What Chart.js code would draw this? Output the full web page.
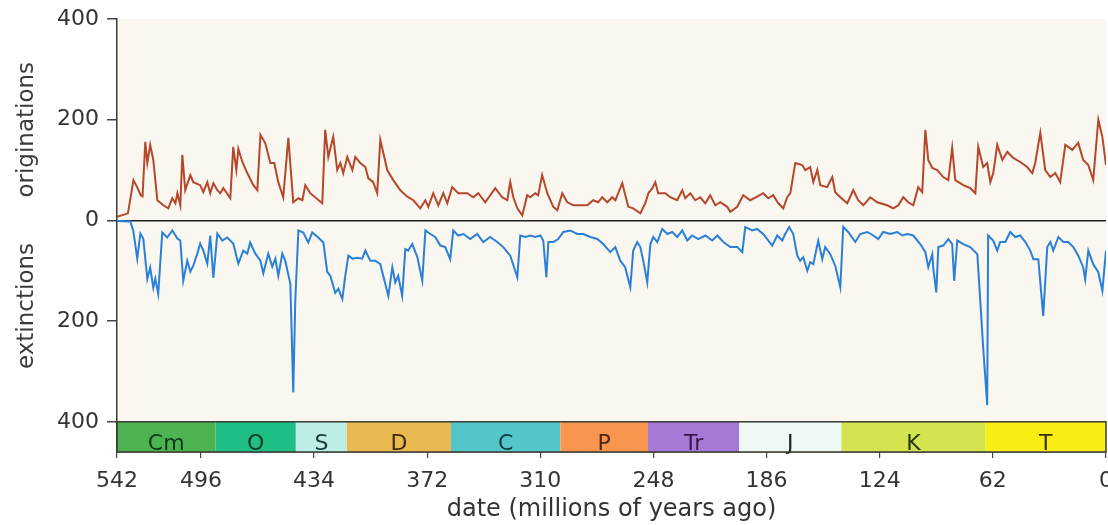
<!DOCTYPE html>
<html>
<head>
<meta charset="utf-8">
<script src="https://cdn.jsdelivr.net/npm/chart.js@4.4.0/dist/chart.umd.min.js"></script>
<style>
  html, body { margin: 0; padding: 0; background: #fff; }
  #wrap { width: 1108px; height: 525px; }
</style>
</head>
<body>
<div id="wrap"><canvas id="chart" width="1108" height="525"></canvas></div>
<script>
// ages in millions of years ago, values = number of genera
const origAge = [542, 536, 533, 531, 529, 528, 526.5, 525.4, 523.8, 522.1,
  519.9, 516.6, 513.9, 511.7, 510, 508.9, 507.3, 506.2, 504.6, 501.8,
  500.2, 496.4, 494.7, 492.5, 490.9, 489.2, 487, 485.4, 483.7, 479.9,
  478.3, 476.6, 475.5, 473.3, 470.6, 467.3, 465.1, 463.4, 460.7, 458,
  455.8, 453.6, 450.9, 448.1, 445.4, 442.6, 440.4, 438.8, 436.1, 429.5,
  427.9, 426.2, 423.5, 421.3, 419.6, 418, 415.8, 413, 411.4, 408.7,
  405.9, 404.3, 401.6, 399.4, 397.7, 393.9, 390.6, 386.8, 382.9, 379.6,
  375.8, 373, 371.4, 368.7, 365.9, 363.2, 361, 358.3, 355, 350,
  346.8, 344, 340.2, 334.7, 330.9, 328.1, 326.5, 324.8, 322.6, 319.9,
  317.2, 315.5, 312.8, 311.2, 309, 306.2, 302.9, 300.7, 298, 295.2,
  291.9, 288.1, 284.3, 281, 278.3, 276.1, 273.3, 270.6, 268.9, 265.1,
  261.8, 259.1, 255.2, 252.5, 250.8, 248.6, 247, 245.4, 241.5, 238.8,
  235, 232.2, 230.6, 227.8, 225.1, 222.4, 219.6, 216.9, 214.1, 211.4,
  207.6, 205.9, 202.1, 198.8, 195, 191.2, 187.9, 185.1, 182.4, 179.6,
  176.9, 174.7, 173, 170.3, 166.5, 164.8, 162.1, 160.4, 158.2, 156.6,
  152.8, 150, 148.4, 145.6, 141.8, 138.5, 135.8, 133, 129.2, 125.4,
  119.9, 116.6, 113.8, 111.1, 108.4, 105.6, 102.9, 100.7, 99, 97.4,
  95.2, 92.5, 89.2, 86.4, 84.3, 82.6, 78.2, 74.4, 71.6, 70,
  67.3, 65.1, 63.4, 61.8, 59.6, 56.8, 54.1, 50.8, 47, 43.2,
  40.4, 38.8, 36, 33.3, 30.5, 27.8, 25.1, 22.3, 18.5, 15.2,
  12.5, 9.7, 7, 4.2, 2, 0];
const origVal = [7, 14, 80, 66, 50, 48, 156, 114, 150, 120,
  40, 30, 24, 44, 34, 54, 30, 130, 60, 90,
  76, 70, 56, 76, 54, 74, 60, 54, 64, 44,
  146, 100, 142, 116, 94, 70, 60, 170, 153, 114,
  114, 76, 46, 164, 36, 44, 40, 70, 54, 34,
  180, 126, 166, 100, 114, 94, 126, 100, 126, 114,
  106, 84, 76, 54, 160, 100, 80, 60, 47, 40,
  24, 40, 27, 54, 30, 54, 34, 66, 54, 54,
  46, 54, 36, 64, 46, 40, 76, 46, 24, 10,
  50, 46, 54, 50, 90, 54, 27, 20, 54, 36,
  30, 30, 30, 40, 36, 46, 36, 46, 40, 74,
  27, 24, 14, 34, 54, 64, 76, 54, 54, 46,
  40, 60, 44, 54, 40, 46, 34, 50, 30, 36,
  27, 17, 27, 50, 40, 47, 54, 44, 50, 34,
  24, 46, 54, 114, 110, 100, 106, 76, 100, 70,
  66, 86, 56, 46, 34, 60, 40, 30, 46, 36,
  30, 24, 30, 46, 36, 30, 66, 56, 180, 120,
  104, 100, 86, 80, 144, 80, 70, 64, 54, 146,
  106, 114, 76, 94, 150, 120, 136, 124, 116, 106,
  94, 114, 174, 100, 86, 94, 76, 150, 140, 154,
  120, 110, 80, 200, 166, 110];

const extAge = [542, 534.7, 533.1, 530.9, 529.2, 527.6, 525.4, 523.8, 522.1, 521,
  519.4, 517.2, 514.5, 511.7, 508.9, 507.3, 505.7, 503.5, 501.8, 500.2,
  498, 496.4, 494.7, 492.5, 490.9, 489.2, 487, 484.3, 481.6, 478.3,
  475.5, 472.8, 470.6, 469, 466.2, 463.4, 461.8, 459.1, 456.9, 455.2,
  453.6, 451.4, 449.8, 447, 445.4, 444.3, 442.6, 439.9, 437.2, 435,
  431.7, 428.9, 426.8, 425.1, 422.4, 420.7, 418.5, 416.9, 415.2, 413,
  410.3, 407.6, 405.9, 403.2, 400.5, 397.7, 395, 393.3, 391.1, 389.5,
  387.9, 385.7, 384, 382.4, 380.2, 377.4, 374.7, 373, 370.3, 367.6,
  364.8, 362.1, 359.4, 357.7, 355, 352.2, 348.4, 344.6, 341.3, 337.5,
  333.6, 330.3, 326.5, 322.6, 321, 318.2, 315.5, 312.8, 310, 308.4,
  306.7, 305.6, 302.9, 300.2, 297.4, 293.6, 289.8, 286.5, 282.6, 278.8,
  275.5, 271.7, 268.9, 266.2, 263.5, 260.7, 259.1, 256.9, 255.2, 253.6,
  251.4, 249.7, 248.1, 245.9, 243.2, 240.4, 237.7, 235, 232.2, 229.5,
  226.8, 223.5, 219.6, 215.8, 213, 209.7, 205.9, 202.1, 199.3, 197.7,
  193.9, 191.2, 187.9, 182.9, 180.2, 177.4, 175.8, 173.6, 171.4, 169.2,
  167.6, 165.9, 163.7, 162.1, 160.4, 157.7, 155.5, 153.9, 151.1, 148.4,
  145.6, 144, 141.3, 137.4, 134.7, 130.8, 127.5, 124.8, 122.1, 118.2,
  114.4, 111.6, 108.9, 105.6, 101.8, 99, 97.4, 95.2, 94.6, 93,
  91.9, 89.2, 86.4, 84.3, 83.2, 81.5, 78.2, 74.4, 70.5, 68.9,
  67.3, 65.1, 64.6, 61.8, 59.6, 58, 55.2, 52.5, 49.7, 47,
  44.2, 41.5, 39.8, 37.1, 34.4, 32.2, 30.5, 28.9, 26.1, 23.4,
  20.7, 17.9, 15.2, 12.5, 11.4, 9.7, 7, 4.2, 2, 0];
const extVal = [1, 2, 20, 76, 26, 36, 116, 94, 134, 116,
  146, 24, 34, 20, 36, 40, 120, 80, 102, 90,
  66, 46, 60, 86, 30, 114, 26, 40, 34, 46,
  86, 60, 66, 44, 66, 80, 105, 66, 92, 76,
  110, 66, 80, 126, 342, 160, 20, 24, 44, 24,
  34, 44, 102, 110, 144, 136, 156, 110, 70, 76,
  74, 76, 60, 80, 80, 87, 126, 150, 93, 123,
  110, 150, 57, 60, 47, 73, 120, 20, 27, 33,
  50, 53, 77, 20, 30, 27, 37, 27, 43, 33,
  43, 53, 70, 113, 30, 33, 30, 33, 30, 40,
  113, 43, 43, 37, 23, 20, 27, 27, 33, 37,
  47, 63, 53, 80, 93, 133, 60, 43, 53, 80,
  123, 47, 33, 43, 17, 27, 23, 33, 20, 40,
  30, 37, 30, 40, 30, 43, 53, 53, 63, 13,
  20, 17, 27, 50, 30, 40, 27, 13, 27, 70,
  80, 73, 100, 83, 87, 40, 77, 53, 67, 90,
  133, 13, 23, 43, 27, 23, 30, 37, 23, 27,
  23, 30, 27, 30, 47, 63, 93, 67, 97, 143,
  53, 50, 37, 47, 120, 40, 47, 53, 67, 160,
  253, 367, 30, 40, 60, 43, 43, 23, 33, 30,
  43, 60, 77, 77, 190, 53, 43, 60, 33, 43,
  43, 53, 70, 93, 117, 60, 87, 103, 140, 60];

const xTicks = [542, 496, 434, 372, 310, 248, 186, 124, 62, 0];
const yTicks = [400, 200, 0, -200, -400];

const periodNames = ['Cm', 'O', 'S', 'D', 'C', 'P', 'Tr', 'J', 'K', 'T'];
const periodBounds = [542, 488, 444, 416, 359, 299, 251, 201, 145, 66, 0];
const periodColors = ['#4db351', '#1fbe85', '#bdeee6', '#e8ba50', '#52c6c8',
  '#f89650', '#a679d6', '#eef8f4', '#d4e44e', '#f8ee14'];
const periodInk = ['#0c3a16', '#0a3a22', '#1a3838', '#442a0a', '#0c3a40',
  '#50240c', '#341a4a', '#1e1e1e', '#263610', '#342e00'];

const FONT = 'DejaVu Sans';

function verticalText(ctx, text, x, y) {
  ctx.save();
  ctx.translate(x, y);
  ctx.rotate(-Math.PI / 2);
  ctx.textAlign = 'center';
  ctx.textBaseline = 'alphabetic';
  ctx.fillText(text, 0, 0);
  ctx.restore();
}

const backdrop = {
  id: 'backdrop',
  beforeDraw(chart) {
    const { ctx, chartArea: a, scales: { y } } = chart;
    ctx.save();
    ctx.fillStyle = '#ffffff';
    ctx.fillRect(0, 0, chart.width, chart.height);
    ctx.fillStyle = '#faf6f0';
    ctx.fillRect(a.left, a.top, a.right - a.left, y.getPixelForValue(-400) - a.top);
    ctx.restore();
  }
};

const periodBand = {
  id: 'periodBand',
  afterDatasetsDraw(chart) {
    const { ctx, scales: { x, y } } = chart;
    const top = y.getPixelForValue(-400);
    const bottom = y.getPixelForValue(-460);
    ctx.save();
    ctx.font = '22px "' + FONT + '"';
    ctx.textAlign = 'center';
    ctx.textBaseline = 'alphabetic';
    periodNames.forEach((name, i) => {
      const x0 = x.getPixelForValue(periodBounds[i]);
      const x1 = x.getPixelForValue(periodBounds[i + 1]);
      ctx.fillStyle = periodColors[i];
      ctx.fillRect(x0, top, x1 - x0, bottom - top);
      ctx.fillStyle = periodInk[i];
      ctx.fillText(name, (x0 + x1) / 2, bottom - 2);
    });
    ctx.strokeStyle = '#3b3b33';
    ctx.lineWidth = 1.5;
    ctx.strokeRect(x.left, top, x.right - x.left, bottom - top);

    // the two halves of the y axis get their own titles
    ctx.fillStyle = '#3a3a3a';
    ctx.font = '23px "' + FONT + '"';
    verticalText(ctx, 'originations', 33, y.getPixelForValue(180));
    verticalText(ctx, 'extinctions', 33, y.getPixelForValue(-170));
    ctx.restore();
  }
};

const ctx = document.getElementById('chart').getContext('2d');
new Chart(ctx, {
  type: 'line',
  data: {
    datasets: [
      {
        label: 'originations',
        data: origAge.map((a, i) => ({ x: a, y: origVal[i] })),
        borderColor: '#b5472a',
        borderWidth: 2,
        pointRadius: 0,
        tension: 0,
        fill: false
      },
      {
        label: 'extinctions',
        data: extAge.map((a, i) => ({ x: a, y: -extVal[i] })),
        borderColor: '#2a80d6',
        borderWidth: 2,
        pointRadius: 0,
        tension: 0,
        fill: false
      }
    ]
  },
  options: {
    responsive: false,
    animation: false,
    devicePixelRatio: 1,
    layout: { padding: { top: 19, right: 2, left: 0, bottom: 0 } },
    plugins: {
      legend: { display: false },
      tooltip: { enabled: false }
    },
    scales: {
      x: {
        type: 'linear',
        min: 0,
        max: 542,
        reverse: true,
        afterBuildTicks: s => { s.ticks = xTicks.map(v => ({ value: v })); },
        afterFit: s => { s.height = 73; s.paddingLeft = 0; s.paddingRight = 0; },
        grid: { drawOnChartArea: false, tickLength: 6, tickColor: '#444', lineWidth: 1.2 },
        border: { display: true, color: '#3b3b33', width: 1.5 },
        ticks: {
          autoSkip: false,
          maxRotation: 0,
          color: '#333',
          padding: 10,
          font: { family: FONT, size: 22 }
        },
        title: {
          display: true,
          text: 'date (millions of years ago)',
          color: '#333',
          font: { family: FONT, size: 24 },
          padding: { top: 0, bottom: 1 }
        }
      },
      y: {
        type: 'linear',
        min: -460,
        max: 400,
        afterBuildTicks: s => { s.ticks = yTicks.map(v => ({ value: v })); },
        afterFit: s => { s.width = 117; s.paddingTop = 0; s.paddingBottom = 0; },
        grid: {
          color: c => (c.tick && c.tick.value === 0) ? '#222' : 'rgba(0,0,0,0)',
          lineWidth: 1.5,
          tickLength: 10,
          tickColor: '#444'
        },
        border: { display: true, color: '#3b3b33', width: 1.5 },
        ticks: {
          color: '#333',
          padding: 8,
          font: { family: FONT, size: 22 },
          callback: v => Math.abs(v)
        }
      }
    }
  },
  plugins: [backdrop, periodBand]
});
</script>
</body>
</html>
